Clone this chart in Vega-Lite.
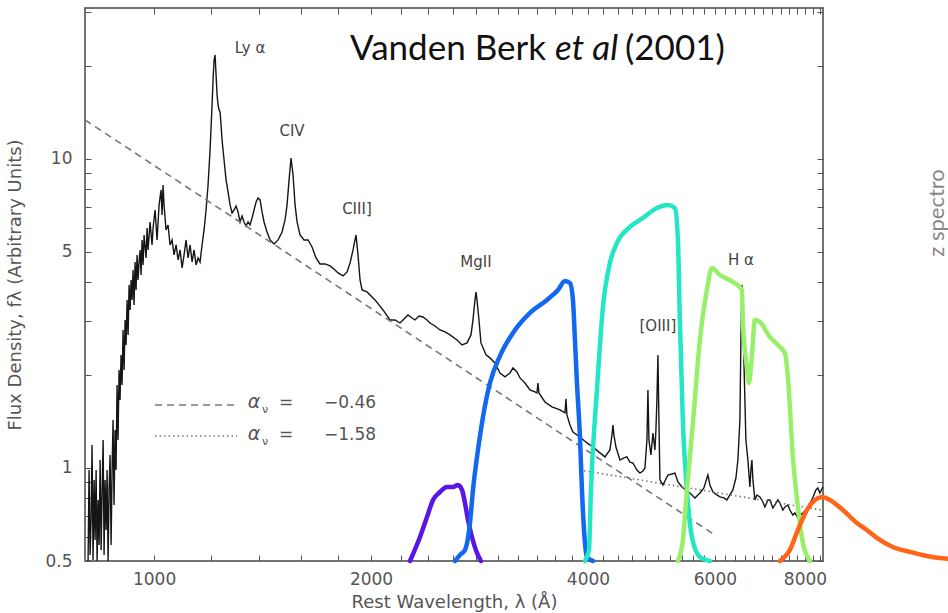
{
  "$schema": "https://vega.github.io/schema/vega-lite/v6.json",
  "width": 738,
  "height": 553,
  "autosize": {"type": "none"},
  "padding": {"left": 85, "top": 8, "right": 125, "bottom": 52},
  "background": "white",
  "config": {
    "view": {"stroke": "#444", "strokeWidth": 1.5},
    "axis": {"grid": false, "domain": false, "tickColor": "#555", "tickWidth": 1, "labelFont": "DejaVu Sans", "labelFontSize": 17, "labelColor": "#555", "titleFont": "DejaVu Sans", "titleFontSize": 18, "titleFontWeight": "normal", "titleColor": "#555", "labelOverlap": false, "labelFlush": false}
  },
  "datasets": {
    "spec": [
      {"l":809.9,"f":0.5},{"l":812.5,"f":0.985},{"l":815.1,"f":0.523},{"l":817.7,"f":0.679},{"l":820.3,"f":1.187},{"l":822.9,"f":0.504},{"l":825.7,"f":0.915},{"l":828.3,"f":0.585},{"l":831.0,"f":0.985},{"l":833.6,"f":0.5},{"l":836.3,"f":0.788},{"l":839.0,"f":0.563},{"l":841.7,"f":1.061},{"l":844.4,"f":0.543},{"l":847.1,"f":0.849},{"l":849.8,"f":1.232},{"l":852.4,"f":0.523},{"l":855.1,"f":0.915},{"l":857.9,"f":0.63},{"l":860.6,"f":0.985},{"l":863.4,"f":0.5},{"l":866.1,"f":0.849},{"l":868.9,"f":1.102},{"l":871.7,"f":0.563},{"l":874.5,"f":0.985},{"l":877.2,"f":1.43},{"l":880.0,"f":0.759},{"l":882.8,"f":1.327},{"l":885.6,"f":0.985},{"l":888.5,"f":1.857},{"l":891.3,"f":1.232},{"l":894.2,"f":2.076},{"l":897.0,"f":1.66},{"l":899.9,"f":2.322},{"l":902.8,"f":1.857},{"l":905.7,"f":2.797},{"l":908.7,"f":2.076},{"l":911.6,"f":3.013},{"l":914.5,"f":2.501},{"l":917.4,"f":3.498},{"l":920.4,"f":2.695},{"l":923.3,"f":3.912},{"l":926.3,"f":3.246},{"l":929.2,"f":4.06},{"l":932.2,"f":3.498},{"l":935.1,"f":4.374},{"l":938.1,"f":3.37},{"l":941.1,"f":4.642},{"l":944.1,"f":3.768},{"l":947.1,"f":4.891},{"l":950.1,"f":4.06},{"l":953.2,"f":4.642},{"l":956.3,"f":5.077},{"l":959.3,"f":4.214},{"l":962.4,"f":5.469},{"l":965.5,"f":4.54},{"l":968.6,"f":5.677},{"l":974.8,"f":4.783},{"l":977.9,"f":5.981},{"l":981.0,"f":5.077},{"l":987.3,"f":6.254},{"l":993.6,"f":5.269},{"l":996.8,"f":5.981},{"l":1003.2,"f":6.839},{"l":1009.6,"f":5.469},{"l":1016.1,"f":7.099},{"l":1022.6,"f":7.938},{"l":1025.9,"f":6.589},{"l":1029.1,"f":8.239},{"l":1032.4,"f":7.099},{"l":1039.0,"f":5.892},{"l":1045.7,"f":6.116},{"l":1052.4,"f":5.269},{"l":1059.2,"f":5.469},{"l":1066.0,"f":4.891},{"l":1072.9,"f":5.269},{"l":1079.8,"f":4.712},{"l":1086.7,"f":5.077},{"l":1093.6,"f":4.439},{"l":1100.6,"f":4.891},{"l":1107.7,"f":5.469},{"l":1114.8,"f":4.783},{"l":1122.0,"f":5.269},{"l":1129.2,"f":4.642},{"l":1136.3,"f":5.077},{"l":1143.6,"f":4.54},{"l":1151.0,"f":4.783},{"l":1158.3,"f":4.642},{"l":1165.7,"f":5.269},{"l":1173.2,"f":5.892},{"l":1180.7,"f":6.839},{"l":1188.3,"f":8.239},{"l":1195.9,"f":10.69},{"l":1203.6,"f":14.95},{"l":1207.4,"f":18.02},{"l":1211.3,"f":20.91},{"l":1215.2,"f":21.71},{"l":1219.1,"f":18.7},{"l":1223.0,"f":16.12},{"l":1226.9,"f":14.95},{"l":1230.8,"f":14.41},{"l":1234.8,"f":14.2},{"l":1238.7,"f":12.88},{"l":1242.7,"f":11.52},{"l":1250.6,"f":9.926},{"l":1258.6,"f":8.552},{"l":1266.7,"f":7.821},{"l":1274.8,"f":7.099},{"l":1283.0,"f":6.688},{"l":1291.2,"f":6.839},{"l":1299.5,"f":7.046},{"l":1307.8,"f":6.738},{"l":1316.2,"f":6.254},{"l":1324.6,"f":6.54},{"l":1333.1,"f":6.254},{"l":1341.6,"f":6.071},{"l":1350.2,"f":6.254},{"l":1358.8,"f":6.116},{"l":1367.6,"f":6.443},{"l":1376.4,"f":6.839},{"l":1385.2,"f":7.259},{"l":1394.0,"f":7.479},{"l":1403.0,"f":7.368},{"l":1412.0,"f":6.738},{"l":1421.0,"f":6.254},{"l":1434.7,"f":5.805},{"l":1448.5,"f":5.469},{"l":1467.2,"f":5.308},{"l":1486.1,"f":5.469},{"l":1505.2,"f":5.805},{"l":1519.6,"f":6.348},{"l":1529.4,"f":7.099},{"l":1539.2,"f":8.552},{"l":1549.0,"f":10.07},{"l":1559.0,"f":8.876},{"l":1569.0,"f":7.099},{"l":1579.1,"f":6.254},{"l":1594.3,"f":5.677},{"l":1614.7,"f":5.469},{"l":1635.5,"f":5.469},{"l":1656.5,"f":5.191},{"l":1677.8,"f":4.783},{"l":1699.4,"f":4.574},{"l":1726.7,"f":4.574},{"l":1754.6,"f":4.506},{"l":1782.7,"f":4.374},{"l":1799.9,"f":4.277},{"l":1829.0,"f":4.183},{"l":1852.5,"f":4.309},{"l":1870.4,"f":4.608},{"l":1888.2,"f":5.077},{"l":1906.4,"f":5.677},{"l":1918.7,"f":4.891},{"l":1931.0,"f":4.06},{"l":1943.4,"f":3.768},{"l":1974.6,"f":3.712},{"l":2025.7,"f":3.498},{"l":2078.0,"f":3.246},{"l":2125.1,"f":3.013},{"l":2159.2,"f":3.013},{"l":2194.1,"f":2.946},{"l":2229.3,"f":3.058},{"l":2250.8,"f":3.127},{"l":2279.7,"f":3.058},{"l":2301.7,"f":3.013},{"l":2331.4,"f":3.104},{"l":2361.2,"f":3.081},{"l":2391.6,"f":3.013},{"l":2414.6,"f":2.946},{"l":2453.5,"f":2.881},{"l":2492.9,"f":2.797},{"l":2533.1,"f":2.756},{"l":2573.9,"f":2.695},{"l":2632.0,"f":2.596},{"l":2674.5,"f":2.501},{"l":2717.5,"f":2.539},{"l":2752.6,"f":2.695},{"l":2770.0,"f":3.013},{"l":2787.8,"f":3.498},{"l":2796.7,"f":3.712},{"l":2805.6,"f":3.498},{"l":2823.6,"f":3.013},{"l":2841.6,"f":2.539},{"l":2869.1,"f":2.41},{"l":2887.5,"f":2.322},{"l":2924.6,"f":2.271},{"l":2971.7,"f":2.188},{"l":3019.8,"f":2.03},{"l":3068.2,"f":1.971},{"l":3117.8,"f":2.03},{"l":3147.5,"f":2.108},{"l":3187.9,"f":2.045},{"l":3218.8,"f":1.956},{"l":3270.5,"f":1.884},{"l":3323.2,"f":1.789},{"l":3376.7,"f":1.763},{"l":3398.4,"f":1.749},{"l":3409.3,"f":1.884},{"l":3420.2,"f":1.749},{"l":3486.2,"f":1.635},{"l":3564.9,"f":1.576},{"l":3657.3,"f":1.541},{"l":3716.3,"f":1.507},{"l":3728.2,"f":1.673},{"l":3740.1,"f":1.485},{"l":3776.1,"f":1.378},{"l":3812.4,"f":1.307},{"l":3898.6,"f":1.26},{"l":3986.7,"f":1.205},{"l":4063.9,"f":1.169},{"l":4155.7,"f":1.119},{"l":4222.7,"f":1.086},{"l":4290.5,"f":1.144},{"l":4318.3,"f":1.278},{"l":4332.1,"f":1.378},{"l":4345.8,"f":1.278},{"l":4373.7,"f":1.169},{"l":4430.3,"f":1.061},{"l":4486.8,"f":1.078},{"l":4530.1,"f":1.086},{"l":4573.8,"f":1.045},{"l":4617.6,"f":1.038},{"l":4677.0,"f":0.985},{"l":4722.0,"f":0.963},{"l":4767.5,"f":0.978},{"l":4798.1,"f":1.0},{"l":4829.0,"f":1.232},{"l":4844.4,"f":1.789},{"l":4859.9,"f":1.232},{"l":4891.1,"f":1.102},{"l":4922.4,"f":1.298},{"l":4953.8,"f":1.144},{"l":4969.7,"f":1.327},{"l":4985.5,"f":1.66},{"l":5001.6,"f":2.322},{"l":5017.5,"f":1.43},{"l":5033.6,"f":0.915},{"l":5082.2,"f":0.881},{"l":5163.8,"f":0.949},{"l":5230.2,"f":0.956},{"l":5280.5,"f":0.963},{"l":5331.4,"f":0.901},{"l":5400.0,"f":0.868},{"l":5469.3,"f":0.849},{"l":5539.7,"f":0.83},{"l":5628.8,"f":0.8},{"l":5720.0,"f":0.83},{"l":5793.0,"f":0.862},{"l":5848.8,"f":0.928},{"l":5867.5,"f":0.949},{"l":5905.3,"f":0.881},{"l":5962.0,"f":0.836},{"l":6039.0,"f":0.818},{"l":6097.0,"f":0.806},{"l":6175.1,"f":0.8},{"l":6234.5,"f":0.788},{"l":6294.5,"f":0.818},{"l":6355.0,"f":0.849},{"l":6416.5,"f":0.928},{"l":6457.6,"f":1.061},{"l":6499.0,"f":1.43},{"l":6519.8,"f":2.596},{"l":6540.7,"f":3.912},{"l":6561.6,"f":3.498},{"l":6582.4,"f":2.237},{"l":6603.5,"f":1.66},{"l":6624.6,"f":1.232},{"l":6667.2,"f":1.061},{"l":6710.0,"f":0.868},{"l":6731.5,"f":0.985},{"l":6753.0,"f":1.061},{"l":6774.6,"f":0.915},{"l":6817.7,"f":0.788},{"l":6861.6,"f":0.818},{"l":6927.3,"f":0.806},{"l":6994.0,"f":0.776},{"l":7039.1,"f":0.748},{"l":7106.6,"f":0.788},{"l":7152.3,"f":0.788},{"l":7221.2,"f":0.742},{"l":7267.5,"f":0.759},{"l":7337.3,"f":0.788},{"l":7384.4,"f":0.77},{"l":7455.6,"f":0.731},{"l":7503.3,"f":0.748},{"l":7575.6,"f":0.759},{"l":7624.3,"f":0.731},{"l":7697.5,"f":0.704},{"l":7746.8,"f":0.715},{"l":7821.5,"f":0.689},{"l":7871.5,"f":0.704},{"l":7947.2,"f":0.715},{"l":8023.8,"f":0.731},{"l":8075.3,"f":0.748},{"l":8127.1,"f":0.77},{"l":8179.1,"f":0.788},{"l":8231.4,"f":0.818},{"l":8284.1,"f":0.849},{"l":8337.1,"f":0.862},{"l":8390.6,"f":0.83},{"l":8470.0,"f":0.868}
    ],
    "filt": [
      {"b":"u","l":2265.2,"f":0.5},{"b":"u","l":2338.7,"f":0.598},{"b":"u","l":2391.6,"f":0.694},{"b":"u","l":2437.9,"f":0.788},{"b":"u","l":2492.9,"f":0.836},{"b":"u","l":2549.3,"f":0.868},{"b":"u","l":2598.6,"f":0.868},{"b":"u","l":2640.5,"f":0.881},{"b":"u","l":2674.5,"f":0.849},{"b":"u","l":2700.2,"f":0.77},{"b":"u","l":2726.2,"f":0.679},{"b":"u","l":2761.3,"f":0.598},{"b":"u","l":2805.7,"f":0.531},{"b":"u","l":2841.7,"f":0.5},
      {"b":"g","l":2615.3,"f":0.5},{"b":"g","l":2657.4,"f":0.523},{"b":"g","l":2700.2,"f":0.543},{"b":"g","l":2743.7,"f":0.664},{"b":"g","l":2770.1,"f":0.849},{"b":"g","l":2814.7,"f":1.144},{"b":"g","l":2859.9,"f":1.462},{"b":"g","l":2924.6,"f":1.884},{"b":"g","l":3019.5,"f":2.305},{"b":"g","l":3147.5,"f":2.735},{"b":"g","l":3323.2,"f":3.174},{"b":"g","l":3508.6,"f":3.498},{"b":"g","l":3634.1,"f":3.768},{"b":"g","l":3716.2,"f":4.03},{"b":"g","l":3776.1,"f":3.97},{"b":"g","l":3812.4,"f":3.498},{"b":"g","l":3836.8,"f":2.596},{"b":"g","l":3861.4,"f":1.884},{"b":"g","l":3898.6,"f":1.26},{"b":"g","l":3923.6,"f":0.849},{"b":"g","l":3961.3,"f":0.572},{"b":"g","l":3986.7,"f":0.515},{"b":"g","l":4063.8,"f":0.5},
      {"b":"r","l":3961.3,"f":0.5},{"b":"r","l":4012.2,"f":0.543},{"b":"r","l":4038.0,"f":0.849},{"b":"r","l":4116.2,"f":1.789},{"b":"r","l":4195.7,"f":3.32},{"b":"r","l":4290.6,"f":4.608},{"b":"r","l":4387.7,"f":5.348},{"b":"r","l":4573.6,"f":6.025},{"b":"r","l":4767.5,"f":6.443},{"b":"r","l":4985.5,"f":6.942},{"b":"r","l":5163.8,"f":7.099},{"b":"r","l":5280.5,"f":6.942},{"b":"r","l":5331.4,"f":5.469},{"b":"r","l":5365.5,"f":2.946},{"b":"r","l":5417.2,"f":1.398},{"b":"r","l":5486.9,"f":0.849},{"b":"r","l":5575.1,"f":0.598},{"b":"r","l":5719.5,"f":0.515},{"b":"r","l":5905.2,"f":0.5},
      {"b":"i","l":5331.4,"f":0.5},{"b":"i","l":5417.2,"f":0.585},{"b":"i","l":5486.9,"f":0.849},{"b":"i","l":5593.0,"f":1.398},{"b":"i","l":5719.5,"f":2.596},{"b":"i","l":5848.8,"f":3.768},{"b":"i","l":5943.0,"f":4.439},{"b":"i","l":6096.7,"f":4.214},{"b":"i","l":6355.2,"f":4.0},{"b":"i","l":6540.7,"f":3.768},{"b":"i","l":6561.6,"f":2.946},{"b":"i","l":6645.8,"f":2.123},{"b":"i","l":6688.6,"f":1.884},{"b":"i","l":6753.1,"f":2.305},{"b":"i","l":6817.7,"f":3.013},{"b":"i","l":6927.5,"f":2.968},{"b":"i","l":7152.6,"f":2.655},{"b":"i","l":7384.5,"f":2.464},{"b":"i","l":7503.3,"f":2.357},{"b":"i","l":7575.6,"f":1.971},{"b":"i","l":7697.3,"f":1.086},{"b":"i","l":7821.5,"f":0.748},{"b":"i","l":7947.1,"f":0.572},{"b":"i","l":8127.1,"f":0.5},
      {"b":"z","l":7384.5,"f":0.5},{"b":"z","l":7624.1,"f":0.543},{"b":"z","l":7821.5,"f":0.63},{"b":"z","l":8049.5,"f":0.731},{"b":"z","l":8257.7,"f":0.788},{"b":"z","l":8444.4,"f":0.806},{"b":"z","l":8663.0,"f":0.788},{"b":"z","l":9030.2,"f":0.731},{"b":"z","l":9443.1,"f":0.664},{"b":"z","l":9749.6,"f":0.63},{"b":"z","l":10066.0,"f":0.594},{"b":"z","l":10593.6,"f":0.555},{"b":"z","l":11184.9,"f":0.535},{"b":"z","l":11808.6,"f":0.519},{"b":"z","l":12309.4,"f":0.511},{"b":"z","l":12626.9,"f":0.508}
    ]
  },
  "resolve": {"axis": {"x": "independent", "y": "independent"}},
  "layer": [
    {
      "data": {"name": "spec"},
      "mark": {"type": "line", "color": "#151515", "strokeWidth": 1.4},
      "encoding": {
        "x": {"field": "l", "type": "quantitative", "scale": {"type": "log", "domain": [802, 8475], "nice": false, "zero": false},
          "axis": {"orient": "bottom", "values": [1000,1200,1400,1600,1800,2000,2200,2400,2600,2800,3000,3200,3400,3600,3800,4000,4200,4400,4600,4800,5000,5200,5400,5600,5800,6000,6200,6400,6600,6800,7000,7200,7400,7600,7800,8000,8200,8400],
            "labelExpr": "(datum.value==1000||datum.value==2000||datum.value==4000||datum.value==6000||datum.value==8000) ? format(datum.value,'d') : ''",
            "tickSize": -6, "labelPadding": 16, "title": "Rest Wavelength, λ (Å)", "titlePadding": 6}},
        "y": {"field": "f", "type": "quantitative", "scale": {"type": "log", "domain": [0.5, 30.8], "nice": false, "zero": false},
          "axis": {"orient": "left", "values": [0.5,0.6,0.7,0.8,0.9,1,2,3,4,5,6,7,8,9,10,20,30],
            "labelExpr": "(datum.value==0.5||datum.value==1||datum.value==5||datum.value==10) ? datum.value+'' : ''",
            "tickSize": -6, "labelPadding": 19, "title": "Flux Density, fλ (Arbitrary Units)", "titlePadding": 20}}
      }
    },
    {
      "data": {"values": [{"l": 802.2, "f": 13.37}, {"l": 6000, "f": 0.607}]},
      "mark": {"type": "line", "color": "#777", "strokeWidth": 1.6, "strokeDash": [7, 5]},
      "encoding": {
        "x": {"field": "l", "type": "quantitative", "scale": {"type": "log", "domain": [802, 8475], "nice": false, "zero": false},
          "axis": {"orient": "top", "values": [1000,1200,1400,1600,1800,2000,2200,2400,2600,2800,3000,3200,3400,3600,3800,4000,4200,4400,4600,4800,5000,5200,5400,5600,5800,6000,6200,6400,6600,6800,7000,7200,7400,7600,7800,8000,8200,8400], "labels": false, "tickSize": -6, "title": null}},
        "y": {"field": "f", "type": "quantitative", "scale": {"type": "log", "domain": [0.5, 30.8], "nice": false, "zero": false},
          "axis": {"orient": "right", "values": [0.5,0.6,0.7,0.8,0.9,1,2,3,4,5,6,7,8,9,10,20,30], "labels": false, "tickSize": -6, "title": null}}
      }
    },
    {
      "data": {"values": [{"l": 3950, "f": 0.98}, {"l": 8470, "f": 0.73}]},
      "mark": {"type": "line", "color": "#777", "strokeWidth": 1.6, "strokeDash": [1.5, 3]},
      "encoding": {
        "x": {"field": "l", "type": "quantitative", "scale": {"type": "log", "domain": [802, 8475], "nice": false, "zero": false}, "axis": null},
        "y": {"field": "f", "type": "quantitative", "scale": {"type": "log", "domain": [0.5, 30.8], "nice": false, "zero": false}, "axis": null}
      }
    },
    {
      "data": {"values": [{"l": 1003.2, "f": 1.599}, {"l": 1303.6, "f": 1.599}]},
      "mark": {"type": "line", "color": "#777", "strokeWidth": 1.6, "strokeDash": [7, 5]},
      "encoding": {
        "x": {"field": "l", "type": "quantitative", "scale": {"type": "log", "domain": [802, 8475], "nice": false, "zero": false}, "axis": null},
        "y": {"field": "f", "type": "quantitative", "scale": {"type": "log", "domain": [0.5, 30.8], "nice": false, "zero": false}, "axis": null}
      }
    },
    {
      "data": {"values": [{"l": 1003.2, "f": 1.269}, {"l": 1303.6, "f": 1.269}]},
      "mark": {"type": "line", "color": "#777", "strokeWidth": 1.6, "strokeDash": [1.5, 3]},
      "encoding": {
        "x": {"field": "l", "type": "quantitative", "scale": {"type": "log", "domain": [802, 8475], "nice": false, "zero": false}, "axis": null},
        "y": {"field": "f", "type": "quantitative", "scale": {"type": "log", "domain": [0.5, 30.8], "nice": false, "zero": false}, "axis": null}
      }
    },
    {
      "data": {"name": "filt"},
      "mark": {"type": "line", "strokeWidth": 4.5, "strokeCap": "round", "strokeJoin": "round", "interpolate": "monotone"},
      "encoding": {
        "x": {"field": "l", "type": "quantitative", "scale": {"type": "log", "domain": [802, 8475], "nice": false, "zero": false}, "axis": null},
        "y": {"field": "f", "type": "quantitative", "scale": {"type": "log", "domain": [0.5, 30.8], "nice": false, "zero": false}, "axis": null},
        "color": {"field": "b", "type": "nominal", "scale": {"domain": ["u", "g", "r", "i", "z"], "range": ["#5a14e6", "#1268ee", "#22e6c4", "#98f06a", "#ff6418"]}, "legend": null}
      }
    },
    {
      "data": {"values": [
        {"l": 1359, "f": 22.9, "t": "Ly  α"},
        {"l": 1554, "f": 12.3, "t": "CIV"},
        {"l": 1912, "f": 6.88, "t": "CIII]"},
        {"l": 2797, "f": 4.64, "t": "MgII"},
        {"l": 5001, "f": 2.88, "t": "[OIII]"},
        {"l": 6520, "f": 4.71, "t": "H  α"}
      ]},
      "mark": {"type": "text", "font": "DejaVu Sans", "fontSize": 15, "color": "#444", "align": "center", "baseline": "middle"},
      "encoding": {
        "x": {"field": "l", "type": "quantitative", "scale": {"type": "log", "domain": [802, 8475], "nice": false, "zero": false}, "axis": null},
        "y": {"field": "f", "type": "quantitative", "scale": {"type": "log", "domain": [0.5, 30.8], "nice": false, "zero": false}, "axis": null},
        "text": {"field": "t"}
      }
    },
    {
      "data": {"values": [{"l": 1376.4, "f": 1.635, "t": "α"}, {"l": 1376.4, "f": 1.288, "t": "α"}]},
      "mark": {"type": "text", "font": "DejaVu Sans", "fontSize": 19, "fontStyle": "italic", "color": "#555", "align": "center", "baseline": "middle"},
      "encoding": {
        "x": {"field": "l", "type": "quantitative", "scale": {"type": "log", "domain": [802, 8475], "nice": false, "zero": false}, "axis": null},
        "y": {"field": "f", "type": "quantitative", "scale": {"type": "log", "domain": [0.5, 30.8], "nice": false, "zero": false}, "axis": null},
        "text": {"field": "t"}
      }
    },
    {
      "data": {"values": [{"l": 1425.6, "f": 1.541, "t": "ν"}, {"l": 1425.6, "f": 1.214, "t": "ν"}]},
      "mark": {"type": "text", "font": "DejaVu Sans", "fontSize": 11, "color": "#555", "align": "center", "baseline": "middle"},
      "encoding": {
        "x": {"field": "l", "type": "quantitative", "scale": {"type": "log", "domain": [802, 8475], "nice": false, "zero": false}, "axis": null},
        "y": {"field": "f", "type": "quantitative", "scale": {"type": "log", "domain": [0.5, 30.8], "nice": false, "zero": false}, "axis": null},
        "text": {"field": "t"}
      }
    },
    {
      "data": {"values": [
        {"l": 1524.5, "f": 1.623, "t": "="}, {"l": 1870.2, "f": 1.623, "t": "−0.46"},
        {"l": 1524.5, "f": 1.278, "t": "="}, {"l": 1870.2, "f": 1.278, "t": "−1.58"}
      ]},
      "mark": {"type": "text", "font": "DejaVu Sans", "fontSize": 17, "color": "#555", "align": "center", "baseline": "middle"},
      "encoding": {
        "x": {"field": "l", "type": "quantitative", "scale": {"type": "log", "domain": [802, 8475], "nice": false, "zero": false}, "axis": null},
        "y": {"field": "f", "type": "quantitative", "scale": {"type": "log", "domain": [0.5, 30.8], "nice": false, "zero": false}, "axis": null},
        "text": {"field": "t"}
      }
    },
    {
      "data": {"values": [{"l": 1870.2, "f": 20.91, "t": "Vanden Berk"}, {"l": 4501.2, "f": 20.91, "t": "(2001)"}]},
      "mark": {"type": "text", "font": "Lato", "fontSize": 35, "color": "#111", "align": "left", "baseline": "alphabetic"},
      "encoding": {
        "x": {"field": "l", "type": "quantitative", "scale": {"type": "log", "domain": [802, 8475], "nice": false, "zero": false}, "axis": null},
        "y": {"field": "f", "type": "quantitative", "scale": {"type": "log", "domain": [0.5, 30.8], "nice": false, "zero": false}, "axis": null},
        "text": {"field": "t"}
      }
    },
    {
      "data": {"values": [{"l": 3600, "f": 20.91, "t": "et al"}]},
      "mark": {"type": "text", "font": "Lato", "fontSize": 35, "fontStyle": "italic", "color": "#111", "align": "left", "baseline": "alphabetic"},
      "encoding": {
        "x": {"field": "l", "type": "quantitative", "scale": {"type": "log", "domain": [802, 8475], "nice": false, "zero": false}, "axis": null},
        "y": {"field": "f", "type": "quantitative", "scale": {"type": "log", "domain": [0.5, 30.8], "nice": false, "zero": false}, "axis": null},
        "text": {"field": "t"}
      }
    },
    {
      "data": {"values": [{"l": 12190, "f": 6.69, "t": "z spectro"}]},
      "mark": {"type": "text", "font": "Lato", "fontSize": 22, "color": "#888", "align": "center", "baseline": "middle", "angle": 270},
      "encoding": {
        "x": {"field": "l", "type": "quantitative", "scale": {"type": "log", "domain": [802, 8475], "nice": false, "zero": false}, "axis": null},
        "y": {"field": "f", "type": "quantitative", "scale": {"type": "log", "domain": [0.5, 30.8], "nice": false, "zero": false}, "axis": null},
        "text": {"field": "t"}
      }
    }
  ]
}
